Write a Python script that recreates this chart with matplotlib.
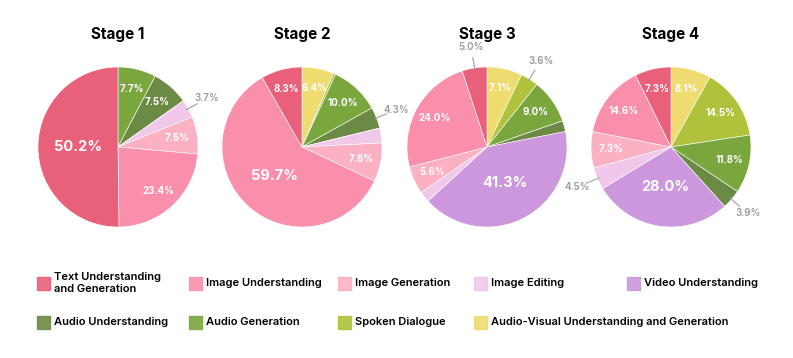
import matplotlib.pyplot as plt
from matplotlib.patches import Rectangle
import numpy as np

plt.rcParams['font.family'] = ['Inter', 'DejaVu Sans']

# slice order: clockwise from 12 o'clock
categories = ['Audio-Visual Understanding and Generation', 'Spoken Dialogue',
              'Audio Generation', 'Audio Understanding', 'Video Understanding',
              'Image Editing', 'Image Generation', 'Image Understanding',
              'Text Understanding\nand Generation']
colors = ['#eedc70', '#b0c23c', '#7aa63e', '#6b8b44', '#cc97dc',
          '#f2c8ea', '#fbb1c2', '#f98fab', '#e8607a']

stages = ['Stage 1', 'Stage 2', 'Stage 3', 'Stage 4']
stage1 = [0, 0, 7.7, 7.5, 0, 3.7, 7.5, 23.4, 50.2]
stage2 = [6.4, 0.5, 10.0, 4.3, 0, 3.0, 7.8, 59.7, 8.3]
stage3 = [7.1, 3.6, 9.0, 2.2, 41.3, 2.2, 5.6, 24.0, 5.0]
stage4 = [8.1, 14.5, 11.8, 3.9, 28.0, 4.5, 7.3, 14.6, 7.3]
values = [stage1, stage2, stage3, stage4]

# legend order (row by row)
legend_order = [8, 7, 6, 5, 4, 3, 2, 1, 0]

W, H = 793, 358
fig = plt.figure(figsize=(W / 100, H / 100), dpi=100)

centers = [118, 302, 487, 671]
cy = 147
R = 80

for i in range(4):
    cx = centers[i]
    ax = fig.add_axes([(cx - R) / W, (H - cy - R) / H, 2 * R / W, 2 * R / H])
    vals = values[i]
    wedges, _ = ax.pie(vals, colors=colors, startangle=90, counterclock=False,
                       wedgeprops=dict(edgecolor='white', linewidth=0.4))
    ax.set_xlim(-1, 1)
    ax.set_ylim(-1, 1)
    ax.set_aspect('equal')
    ax.axis('off')
    big = max(vals)
    for w, v in zip(wedges, vals):
        if v < 3.5:
            continue
        ang = np.deg2rad((w.theta1 + w.theta2) / 2)
        dx, dy = np.cos(ang), np.sin(ang)
        lab = '%.1f%%' % v
        if v == big and v > 25:
            ax.text(0.5 * dx, 0.5 * dy, lab, ha='center', va='center',
                    color='white', fontsize=10.5, fontweight='bold')
        elif v >= 5.5:
            ax.text(0.75 * dx, 0.75 * dy, lab, ha='center', va='center',
                    color='white', fontsize=7, fontweight='bold')
        else:
            ax.plot([0.98 * dx, 1.13 * dx], [0.98 * dy, 1.13 * dy],
                    color='#a0a0a0', lw=0.8, clip_on=False)
            ax.text(1.27 * dx, 1.27 * dy, lab, ha='center', va='center',
                    color='#9a9a9a', fontsize=7, fontweight='semibold')
    fig.text(cx / W, 1 - 35 / H, stages[i], ha='center', va='center',
             fontsize=11, fontweight='bold')

# legend drawn by hand
patch_x = [37, 189, 338, 474, 627]
row_y = [283, 322]
for k, idx in enumerate(legend_order):
    r, c = divmod(k, 5)
    x0, y0 = patch_x[c], row_y[r]
    fig.add_artist(Rectangle((x0 / W, 1 - (y0 + 6.5) / H), 13 / W, 13 / H,
                             transform=fig.transFigure, color=colors[idx],
                             alpha=0.9))
    fig.text((x0 + 17) / W, 1 - y0 / H, categories[idx], ha='left',
             va='center', fontsize=8, fontweight='semibold', linespacing=1.3)

fig.savefig('out.png', dpi=100)
